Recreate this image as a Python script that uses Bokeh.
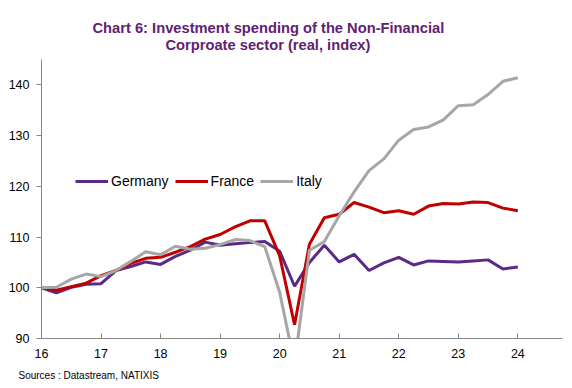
from bokeh.plotting import figure
from bokeh.models import Range1d, Title, Legend, LegendItem, FixedTicker
from bokeh.embed import file_html
from bokeh.resources import INLINE

quarters = [16.0, 16.25, 16.5, 16.75, 17.0, 17.25, 17.5, 17.75, 18.0, 18.25, 18.5, 18.75,
            19.0, 19.25, 19.5, 19.75, 20.0, 20.25, 20.5, 20.75, 21.0, 21.25, 21.5, 21.75,
            22.0, 22.25, 22.5, 22.75, 23.0, 23.25, 23.5, 23.75, 24.0]

germany = [100.0, 99.0, 100.1, 100.7, 100.8, 103.4, 104.2, 105.1, 104.6, 106.2, 107.4, 109.0,
           108.4, 108.7, 108.9, 109.1, 107.2, 100.3, 105.0, 108.4, 105.1, 106.6, 103.4, 104.9,
           106.0, 104.5, 105.3, 105.2, 105.1, 105.3, 105.5, 103.7, 104.1]

france = [100.0, 99.5, 100.2, 100.9, 102.4, 103.4, 104.8, 105.8, 106.0, 107.0, 108.1, 109.6,
          110.5, 112.0, 113.2, 113.2, 106.3, 92.7, 108.6, 113.8, 114.5, 116.8, 115.9, 114.8,
          115.2, 114.5, 116.1, 116.6, 116.5, 116.9, 116.8, 115.7, 115.2]

italy = [100.0, 100.1, 101.7, 102.7, 102.2, 103.4, 105.2, 107.1, 106.5, 108.2, 107.6, 107.8,
         108.5, 109.5, 109.3, 108.1, 99.1, 85.0, 107.4, 109.1, 114.2, 118.9, 123.1, 125.4,
         129.1, 131.2, 131.7, 133.1, 135.9, 136.1, 138.1, 140.7, 141.4]

series_names = ["Germany", "France", "Italy"]
series_colors = ["#5B2A86", "#C00000", "#A6A6A6"]

x_ticks = [16, 17, 18, 19, 20, 21, 22, 23, 24]
y_ticks = [90, 100, 110, 120, 130, 140]

title_lines = ["Chart 6: Investment spending of the Non-Financial",
               "Corproate sector (real, index)"]
source_text = "Sources : Datastream, NATIXIS"

p = figure(width=564, height=388, output_backend="svg", toolbar_location=None,
           x_range=Range1d(16, 24.75), y_range=Range1d(90, 145),
           min_border_left=41, min_border_right=2, min_border_top=59, min_border_bottom=49)
p.outline_line_color = None
p.xgrid.grid_line_color = None
p.ygrid.grid_line_color = None
p.background_fill_color = "white"
p.border_fill_color = "white"

for ax in (p.xaxis[0], p.yaxis[0]):
    ax.axis_line_color = "#868686"
    ax.axis_line_width = 1
    ax.major_tick_line_color = "#868686"
    ax.minor_tick_line_color = None
    ax.major_label_text_font = "Liberation Sans"
    ax.major_label_text_font_size = "12.5px"
    ax.major_label_text_color = "black"

p.xaxis[0].ticker = FixedTicker(ticks=x_ticks)
p.xaxis[0].major_tick_in = 5
p.xaxis[0].major_tick_out = 0
p.xaxis[0].major_label_standoff = 10

p.yaxis[0].ticker = FixedTicker(ticks=y_ticks)
p.yaxis[0].major_tick_in = 0
p.yaxis[0].major_tick_out = 5
p.yaxis[0].major_label_standoff = 7

renderers = []
for ys, c in zip([germany, france, italy], series_colors):
    r = p.line(quarters, ys, line_color=c, line_width=3)
    renderers.append(r)

legend = Legend(items=[LegendItem(label=n, renderers=[r]) for n, r in zip(series_names, renderers)],
                orientation="horizontal", location=(34, 147),
                border_line_color=None, background_fill_alpha=0,
                padding=0, margin=0, spacing=6, label_standoff=3,
                glyph_width=33, glyph_height=20, label_height=20,
                label_text_font="Liberation Sans", label_text_font_size="14px",
                label_text_color="black")
p.add_layout(legend, "center")

title_color = "#5F2172"
title_offsets = [51, 124]
title_standoffs = [-16, 14]
for t, off, so in zip(reversed(title_lines), reversed(title_offsets), reversed(title_standoffs)):
    p.add_layout(Title(text=t, align="left", offset=off, standoff=so,
                       text_font="Liberation Sans", text_font_style="bold",
                       text_font_size="14.7px", text_color=title_color), "above")

p.add_layout(Title(text=source_text, align="left", offset=-23, standoff=15,
                   text_font="Liberation Sans", text_font_style="normal",
                   text_font_size="10px", text_color="black"), "below")

open("out.html", "w").write(file_html(p, INLINE))
